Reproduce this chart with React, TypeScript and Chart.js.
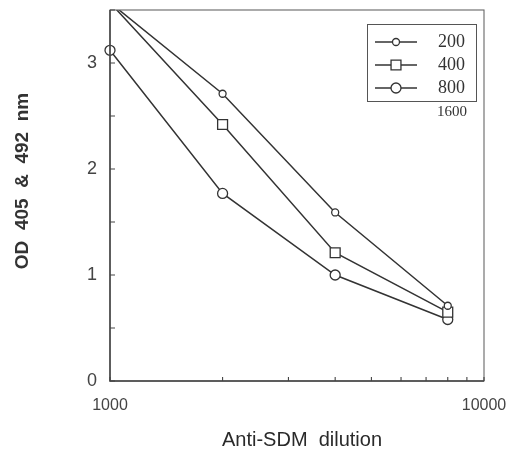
import React, { useEffect, useRef } from 'react';
import { Chart, registerables } from 'chart.js';

Chart.register(...registerables);

// ---- data ----
const dilutions = [1000, 2000, 4000, 8000];
const seriesLabels = ['200', '400', '800'];
const extraLegendLabel = '1600';
const od200 = [3.57, 2.71, 1.59, 0.71];
const od400 = [3.57, 2.42, 1.21, 0.65];
const od800 = [3.12, 1.77, 1.0, 0.58];
const xTickValues = [1000, 2000, 3000, 4000, 5000, 6000, 7000, 8000, 9000, 10000];
const xTickLabels = ['1000', '10000'];
const yTickValues = [0, 0.5, 1, 1.5, 2, 2.5, 3, 3.5];
const yTickLabels = ['0', '1', '2', '3'];
const xTitle = 'Anti-SDM  dilution';
const yTitle = 'OD  405  &  492  nm';

const INK = '#333333';
const TICK_FONT = '"Liberation Sans", Arial, sans-serif';

function drawMarker(ctx: CanvasRenderingContext2D, style: string, r: number, x: number, y: number) {
  ctx.beginPath();
  if (style === 'rect') {
    const s = Math.SQRT1_2 * r;
    ctx.rect(x - s, y - s, 2 * s, 2 * s);
  } else {
    ctx.arc(x, y, r, 0, Math.PI * 2);
  }
  ctx.fillStyle = '#ffffff';
  ctx.fill();
  ctx.lineWidth = 1.3;
  ctx.strokeStyle = INK;
  ctx.stroke();
}

const decorPlugin = {
  id: 'decor',
  afterDraw(chart: any) {
    const { ctx, chartArea } = chart;
    const { left, right, top, bottom } = chartArea;
    const xs = chart.scales.x;
    const ys = chart.scales.y;
    ctx.save();
    // frame
    ctx.strokeStyle = '#666666';
    ctx.lineWidth = 1.1;
    ctx.strokeRect(left, top, right - left, bottom - top);
    ctx.strokeStyle = '#444444';
    ctx.lineWidth = 1.5;
    ctx.beginPath();
    ctx.moveTo(left, top);
    ctx.lineTo(left, bottom);
    ctx.lineTo(right, bottom);
    ctx.stroke();
    // inner ticks
    ctx.lineWidth = 1.1;
    ctx.beginPath();
    xTickValues.forEach((v) => {
      const px = xs.getPixelForValue(v);
      ctx.moveTo(px, bottom);
      ctx.lineTo(px, bottom - 4);
    });
    yTickValues.forEach((v) => {
      const py = ys.getPixelForValue(v);
      ctx.moveTo(left, py);
      ctx.lineTo(left + 5, py);
    });
    ctx.stroke();

    // axis titles
    ctx.fillStyle = '#2a2a2a';
    ctx.font = '20px "Liberation Sans", Arial, sans-serif';
    ctx.textAlign = 'center';
    ctx.textBaseline = 'middle';
    ctx.fillText(xTitle, 302, 440);
    ctx.save();
    ctx.translate(23, 181);
    ctx.rotate(-Math.PI / 2);
    ctx.font = 'bold 19px "Liberation Sans", Arial, sans-serif';
    ctx.fillStyle = '#333333';
    ctx.fillText(yTitle, 0, 0);
    ctx.restore();

    // legend
    const bx = 367, by = 24, bw = 109, bh = 77;
    ctx.strokeStyle = '#555555';
    ctx.lineWidth = 1;
    ctx.strokeRect(bx + 0.5, by + 0.5, bw, bh);
    const rows = [42, 65, 88];
    chart.data.datasets.forEach((ds: any, i: number) => {
      const y = rows[i];
      ctx.beginPath();
      ctx.strokeStyle = INK;
      ctx.lineWidth = 1.5;
      ctx.moveTo(375, y);
      ctx.lineTo(417, y);
      ctx.stroke();
      drawMarker(ctx, ds.pointStyle, ds.pointRadius, 396, y);
      ctx.fillStyle = '#333333';
      ctx.font = '18px "Liberation Serif", serif';
      ctx.textAlign = 'left';
      ctx.textBaseline = 'middle';
      ctx.fillText(ds.label, 438, y);
    });
    ctx.font = '15px "Liberation Serif", serif';
    ctx.textBaseline = 'middle';
    ctx.fillText(extraLegendLabel, 437, 112);
    ctx.restore();
  },
};

export default function App() {
  const ref = useRef<HTMLCanvasElement | null>(null);
  useEffect(() => {
    document.body.style.margin = '0';
    const canvas = ref.current!;
    const mk = (label: string, vals: number[], style: string, r: number, clip: any) => ({
      label,
      data: dilutions.map((x, i) => ({ x, y: vals[i] })),
      showLine: true,
      borderColor: INK,
      borderWidth: 1.5,
      pointStyle: style,
      pointRadius: r,
      pointBackgroundColor: '#ffffff',
      pointBorderColor: INK,
      pointBorderWidth: 1.3,
      clip,
    });
    const chart = new Chart(canvas, {
      type: 'scatter',
      data: {
        datasets: [
          mk(seriesLabels[0], od200, 'circle', 3.5, 0),
          mk(seriesLabels[1], od400, 'rect', 7, 0),
          mk(seriesLabels[2], od800, 'circle', 5, { left: 8, top: 0, right: 8, bottom: 8 }),
        ],
      },
      options: {
        responsive: false,
        animation: false,
        devicePixelRatio: 1,
        layout: { padding: { top: 10, right: 23, left: 0, bottom: 0 } },
        plugins: { legend: { display: false }, tooltip: { enabled: false } },
        scales: {
          x: {
            type: 'logarithmic',
            min: 1000,
            max: 10000,
            grid: { display: false, drawTicks: false },
            border: { display: false },
            afterBuildTicks: (s: any) => {
              s.ticks = xTickValues.map((v) => ({ value: v }));
            },
            afterFit: (s: any) => {
              s.height = 69;
              s.paddingLeft = 0;
              s.paddingRight = 0;
            },
            ticks: {
              autoSkip: false,
              maxRotation: 0,
              padding: 15,
              color: '#444444',
              font: { family: TICK_FONT, size: 16 },
              callback: (v: any) => {
                const s = String(v);
                return xTickLabels.includes(s) ? s : '';
              },
            },
          },
          y: {
            min: 0,
            max: 3.5,
            grid: { display: false, drawTicks: false },
            border: { display: false },
            afterBuildTicks: (s: any) => {
              s.ticks = yTickValues.map((v) => ({ value: v }));
            },
            afterFit: (s: any) => {
              s.width = 110;
              s.paddingTop = 0;
              s.paddingBottom = 0;
            },
            ticks: {
              autoSkip: false,
              padding: 13,
              color: '#444444',
              font: { family: TICK_FONT, size: 18 },
              callback: (v: any) => {
                const s = String(v);
                return yTickLabels.includes(s) ? s : '';
              },
            },
          },
        },
      },
      plugins: [decorPlugin],
    });
    return () => chart.destroy();
  }, []);
  return (
    <div style={{ position: 'absolute', left: 0, top: 0, width: 507, height: 450 }}>
      <canvas ref={ref} width={507} height={450} />
    </div>
  );
}
